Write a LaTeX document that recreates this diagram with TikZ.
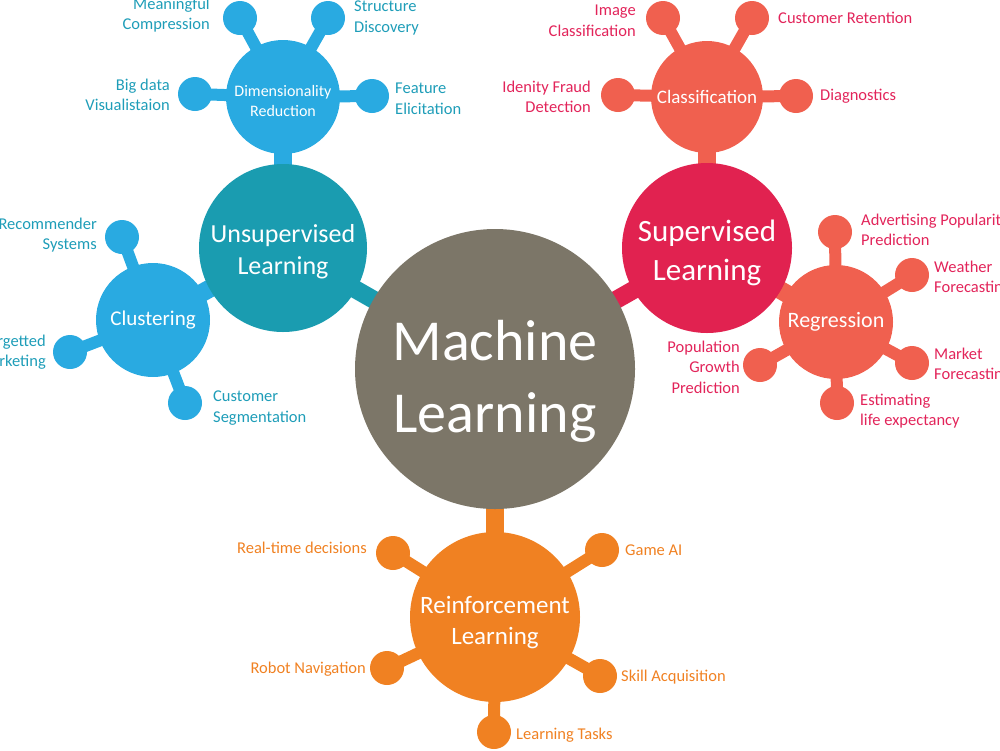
\documentclass[tikz,border=0pt]{standalone}
\usepackage{fontspec}
\setmainfont{Carlito}
\usetikzlibrary{positioning,backgrounds}

\definecolor{mlgray}{HTML}{7C7668}
\definecolor{unsupteal}{HTML}{1A9CB0}
\definecolor{unsupblue}{HTML}{29AAE1}
\definecolor{unsuptext}{HTML}{1E9DB8}
\definecolor{supred}{HTML}{E12250}
\definecolor{supsalmon}{HTML}{F0604F}
\definecolor{suptext}{HTML}{E2245A}
\definecolor{rlorange}{HTML}{F08122}

\tikzset{
  hub/.style={circle, fill=#1, text=white, inner sep=0pt, align=center},
  leaf/.style={circle, fill=#1, minimum size=34pt, inner sep=0pt},
  tag/.style={text=#1, inner sep=0pt, font=\fontsize{16.5}{20.5}\selectfont},
  stem/.style={line width=12pt, draw=#1},
  trunk/.style={line width=18pt, draw=#1}
}

\begin{document}
\begin{tikzpicture}[x=1pt, y=-1pt]
  \useasboundingbox (0,0) rectangle (1000,750);

  % main hubs
  \node[hub=mlgray, minimum size=280pt, font=\fontsize{58}{72}\selectfont] (ml) at (495,369) {\rule{0pt}{64pt}Machine\\Learning};
  \node[hub=unsupteal, minimum size=168pt, font=\fontsize{26}{32}\selectfont] (ul) at (283,248) {\rule{0pt}{26pt}Unsupervised\\Learning};
  \node[hub=supred, minimum size=170pt, font=\fontsize{31}{39}\selectfont] (sl) at (707,248) {\rule{0pt}{31pt}Supervised\\Learning};
  \node[hub=rlorange, minimum size=170pt, font=\fontsize{25}{31}\selectfont] (rl) at (495,617) {\rule{0pt}{29pt}Reinforcement\\Learning};

  % sub hubs
  \node[hub=unsupblue, minimum size=114pt, font=\fontsize{16}{20}\selectfont] (dr) at (283,97) {\rule{0pt}{19pt}Dimensionality\\Reduction};
  \node[hub=unsupblue, minimum size=114pt, font=\fontsize{21}{25}\selectfont] (cl) at (153,320) {Clustering};
  \node[hub=supsalmon, minimum size=112pt, font=\fontsize{19}{23}\selectfont] (cf) at (707,97) {Classification};
  \node[hub=supsalmon, minimum size=114pt, font=\fontsize{22}{26}\selectfont] (rg) at (836,322) {Regression};

  % leaves of dimensionality reduction
  \node[leaf=unsupblue] (mc) at (240,18) {};
  \node[leaf=unsupblue] (sd) at (328,18) {};
  \node[leaf=unsupblue] (bd) at (195,94) {};
  \node[leaf=unsupblue] (fe) at (372,96) {};
  \node[tag=unsuptext, anchor=east, align=right] (mct) at (210,15) {Meaningful\\Compression};
  \node[tag=unsuptext, anchor=west, align=left] (sdt) at (354,18) {Structure\\Discovery};
  \node[tag=unsuptext, anchor=east, align=right] (bdt) at (170,95) {Big data\\Visualistaion};
  \node[tag=unsuptext, anchor=west, align=left] (fet) at (395,99) {Feature\\Elicitation};

  % leaves of clustering
  \node[leaf=unsupblue] (rs) at (122,237) {};
  \node[leaf=unsupblue] (tm) at (70,352) {};
  \node[leaf=unsupblue] (cs) at (185,403) {};
  \node[tag=unsuptext, anchor=east, align=right] (rst) at (97,235) {Recommender\\Systems};
  \node[tag=unsuptext, anchor=east, align=right] (tmt) at (46,352) {Targetted\\Marketing};
  \node[tag=unsuptext, anchor=west, align=left] (cst) at (213,408) {Customer\\Segmentation};

  % leaves of classification
  \node[leaf=supsalmon] (ic) at (663,18) {};
  \node[leaf=supsalmon] (cr) at (752,18) {};
  \node[leaf=supsalmon] (idf) at (618,95) {};
  \node[leaf=supsalmon] (dg) at (796,96) {};
  \node[tag=suptext, anchor=east, align=right] (ict) at (636,21) {Image\\Classification};
  \node[tag=suptext, anchor=west] (crt) at (778,18) {Customer Retention};
  \node[tag=suptext, anchor=east, align=right] (idft) at (591,97) {Idenity Fraud\\Detection};
  \node[tag=suptext, anchor=west] (dgt) at (820,96) {Diagnostics};

  % leaves of regression
  \node[leaf=supsalmon] (ap) at (835,232) {};
  \node[leaf=supsalmon] (wf) at (912,275) {};
  \node[leaf=supsalmon] (mf) at (912,363) {};
  \node[leaf=supsalmon] (le) at (837,403) {};
  \node[leaf=supsalmon] (pg) at (760,365) {};
  \node[tag=suptext, anchor=west, align=left] (apt) at (861,230) {Advertising Popularity\\Prediction};
  \node[tag=suptext, anchor=west, align=left] (wft) at (934,278) {Weather\\Forecasting};
  \node[tag=suptext, anchor=west, align=left] (mft) at (934,365) {Market\\Forecasting};
  \node[tag=suptext, anchor=west, align=left] (let) at (860,411) {Estimating\\life expectancy};
  \node[tag=suptext, anchor=east, align=right] (pgt) at (740,367) {Population\\Growth\\Prediction};

  % leaves of reinforcement learning
  \node[leaf=rlorange] (rt) at (393,553) {};
  \node[leaf=rlorange] (ga) at (602,550) {};
  \node[leaf=rlorange] (rn) at (387,668) {};
  \node[leaf=rlorange] (sa) at (600,676) {};
  \node[leaf=rlorange] (lt) at (494,732) {};
  \node[tag=rlorange, anchor=east] (rtt) at (367,548) {Real-time decisions};
  \node[tag=rlorange, anchor=west] (gat) at (625,550) {Game AI};
  \node[tag=rlorange, anchor=east] (rnt) at (366,669) {Robot Navigation};
  \node[tag=rlorange, anchor=west] (sat) at (621,677) {Skill Acquisition};
  \node[tag=rlorange, anchor=west] (ltt) at (516,735) {Learning Tasks};

  \begin{pgfonlayer}{background}
    % trunks between hubs
    \draw[trunk=unsupteal] (ul.center) -- (ml.center);
    \draw[trunk=supred] (sl.center) -- (ml.center);
    \draw[trunk=rlorange] (rl.center) -- (ml.center);
    \draw[trunk=unsupblue] (dr.center) -- (ul.center);
    \draw[trunk=unsupblue] (cl.center) -- (ul.center);
    \draw[trunk=supsalmon] (cf.center) -- (sl.center);
    \draw[trunk=supsalmon] (rg.center) -- (sl.center);
    % stems to leaves
    \foreach \leafname in {mc,sd,bd,fe}
      \draw[stem=unsupblue] (\leafname.center) -- (dr.center);
    \foreach \leafname in {rs,tm,cs}
      \draw[stem=unsupblue] (\leafname.center) -- (cl.center);
    \foreach \leafname in {ic,cr,idf,dg}
      \draw[stem=supsalmon] (\leafname.center) -- (cf.center);
    \foreach \leafname in {ap,wf,mf,le,pg}
      \draw[stem=supsalmon] (\leafname.center) -- (rg.center);
    \foreach \leafname in {rt,ga,rn,sa,lt}
      \draw[stem=rlorange] (\leafname.center) -- (rl.center);
  \end{pgfonlayer}
\end{tikzpicture}
\end{document}
